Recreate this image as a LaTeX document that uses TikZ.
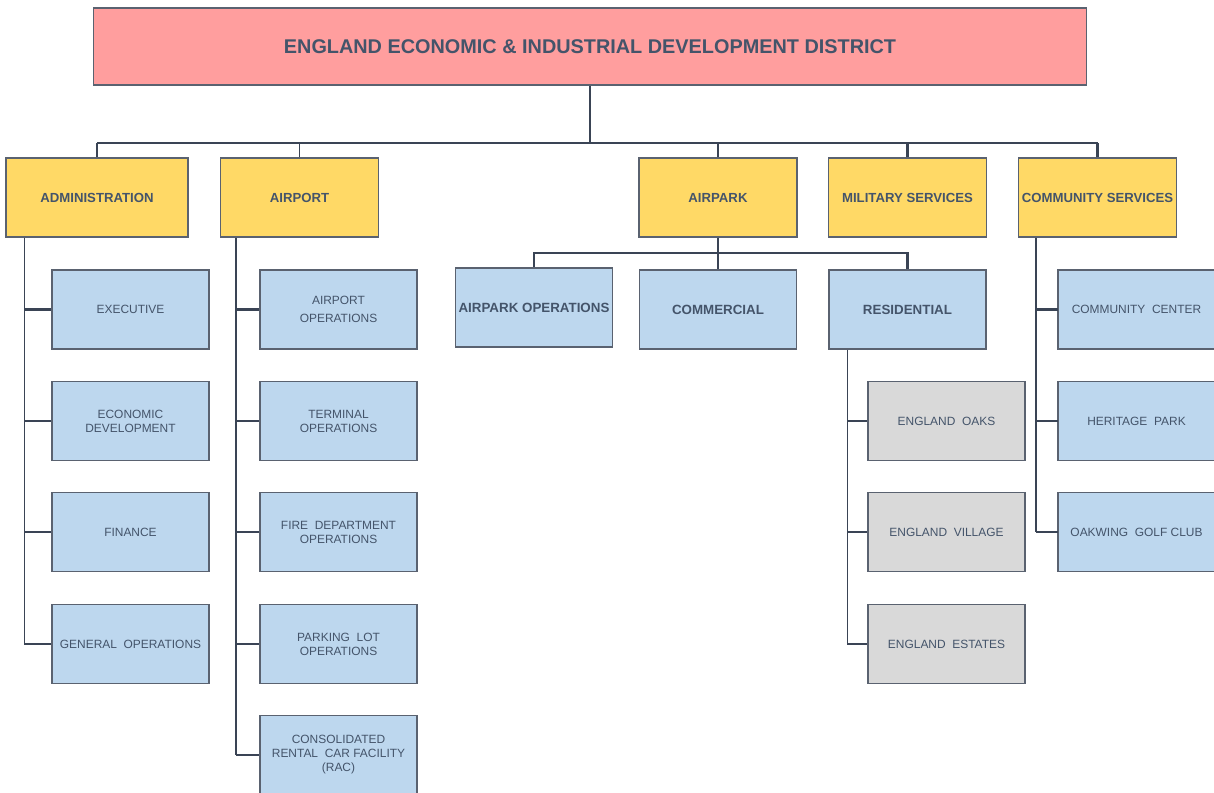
\documentclass[tikz,border=0pt]{standalone}
\usepackage{fontspec}
\setmainfont{Liberation Sans}
\usetikzlibrary{positioning}
\definecolor{titlered}{HTML}{FF9E9E}
\definecolor{deptyellow}{HTML}{FFD966}
\definecolor{unitblue}{HTML}{BDD7EE}
\definecolor{subgray}{HTML}{D9D9D9}
\definecolor{inkslate}{HTML}{44546A}
\definecolor{linkslate}{HTML}{3A4455}
\definecolor{edgegray}{HTML}{5A6270}

\begin{document}
\begin{tikzpicture}[
    x=0.02cm, y=-0.02cm,
    box/.style={rectangle, draw=edgegray, line width=0.6pt, text=inkslate, align=center, inner sep=1pt, minimum width=3.14cm, minimum height=1.58cm, font=\fontsize{6.8}{8}\selectfont},
    head/.style={box, fill=titlered, minimum width=19.88cm, minimum height=1.54cm, font=\bfseries\fontsize{11.3}{13}\selectfont},
    dept/.style={box, fill=deptyellow, minimum width=3.16cm, font=\bfseries\fontsize{7.5}{9}\selectfont},
    unit/.style={box, fill=unitblue},
    unitbold/.style={unit, font=\bfseries\fontsize{7.6}{9}\selectfont},
    estate/.style={box, fill=subgray},
    link/.style={draw=linkslate, line width=1.3pt},
    thinlink/.style={draw=linkslate, line width=0.7pt}
]
\useasboundingbox (0,0) rectangle (1214,793);

% top level
\node[head] (district) at (590,46.5) {ENGLAND ECONOMIC \& INDUSTRIAL DEVELOPMENT DISTRICT};

% departments
\node[dept, minimum width=3.64cm] (admin) at (97,197.5) {ADMINISTRATION};
\node[dept] (airport) at (299.5,197.5) {AIRPORT};
\node[dept] (airpark) at (718,197.5) {AIRPARK};
\node[dept] (military) at (907.5,197.5) {MILITARY SERVICES};
\node[dept] (community) at (1097.5,197.5) {COMMUNITY SERVICES};

% administration units
\node[unit] (exec) at (130.5,309.5) {EXECUTIVE};
\node[unit] (econ) at (130.5,421) {ECONOMIC\\DEVELOPMENT};
\node[unit] (finance) at (130.5,532) {FINANCE};
\node[unit] (genops) at (130.5,644) {GENERAL\ \ OPERATIONS};

% airport units
\node[unit] (apops) at (338.5,309.5) {AIRPORT\\[2pt]OPERATIONS};
\node[unit] (terminal) at (338.5,421) {TERMINAL\\OPERATIONS};
\node[unit] (fire) at (338.5,532) {FIRE\ \ DEPARTMENT\\OPERATIONS};
\node[unit] (parking) at (338.5,644) {PARKING\ \ LOT\\OPERATIONS};
\node[unit] (rac) at (338.5,755) {CONSOLIDATED\\RENTAL\ \ CAR FACILITY\\(RAC)};

% airpark units
\node[unitbold] (parkops) at (534,307.5) {AIRPARK OPERATIONS};
\node[unitbold] (commercial) at (718,309.5) {COMMERCIAL};
\node[unitbold] (residential) at (907.5,309.5) {RESIDENTIAL};

% residential areas
\node[estate] (oaks) at (946.5,421) {ENGLAND\ \ OAKS};
\node[estate] (village) at (946.5,532) {ENGLAND\ \ VILLAGE};
\node[estate] (estates) at (946.5,644) {ENGLAND\ \ ESTATES};

% community units
\node[unit] (center) at (1136.5,309.5) {COMMUNITY\ \ CENTER};
\node[unit] (heritage) at (1136.5,421) {HERITAGE\ \ PARK};
\node[unit] (golf) at (1136.5,532) {OAKWING\ \ GOLF CLUB};

% connectors: top bus
\coordinate (bus) at (590,143);
\draw[link] (district) -- (bus);
\draw[link] (admin.north |- bus) -- (community.north |- bus);
\foreach \d/\w in {admin/thinlink,airport/thinlink,airpark/link,military/link,community/link}
  \draw[\w] (\d.north) -- (\d.north |- bus);

% spines with stubs
\coordinate (adminspine) at ([xshift=0.38cm]admin.south west);
\coordinate (airportspine) at ([xshift=0.32cm]airport.south west);
\coordinate (resispine) at ([xshift=0.38cm]residential.south west);
\coordinate (commspine) at ([xshift=0.36cm]community.south west);
\draw[thinlink] (adminspine) -- (adminspine |- genops.west);
\draw[thinlink] (airportspine) -- (airportspine |- rac.west);
\draw[thinlink] (resispine) -- (resispine |- estates.west);
\draw[thinlink] (commspine) -- (commspine |- golf.west);
\foreach \u/\w in {exec/link,econ/thinlink,finance/link,genops/link}
  \draw[\w] (adminspine |- \u.west) -- (\u.west);
\foreach \u/\w in {apops/link,terminal/thinlink,fire/link,parking/link,rac/link}
  \draw[\w] (airportspine |- \u.west) -- (\u.west);
\foreach \u/\w in {oaks/link,village/thinlink,estates/link}
  \draw[\w] (resispine |- \u.west) -- (\u.west);
\foreach \u/\w in {center/link,heritage/thinlink,golf/link}
  \draw[\w] (commspine |- \u.west) -- (\u.west);

% airpark branch
\coordinate (parkbus) at (718,253);
\draw[thinlink] (parkbus) -| (parkops);
\draw[link] (airpark) -- (parkbus) -| (residential);
\draw[link] (parkbus) -- (commercial);

\end{tikzpicture}
\end{document}
